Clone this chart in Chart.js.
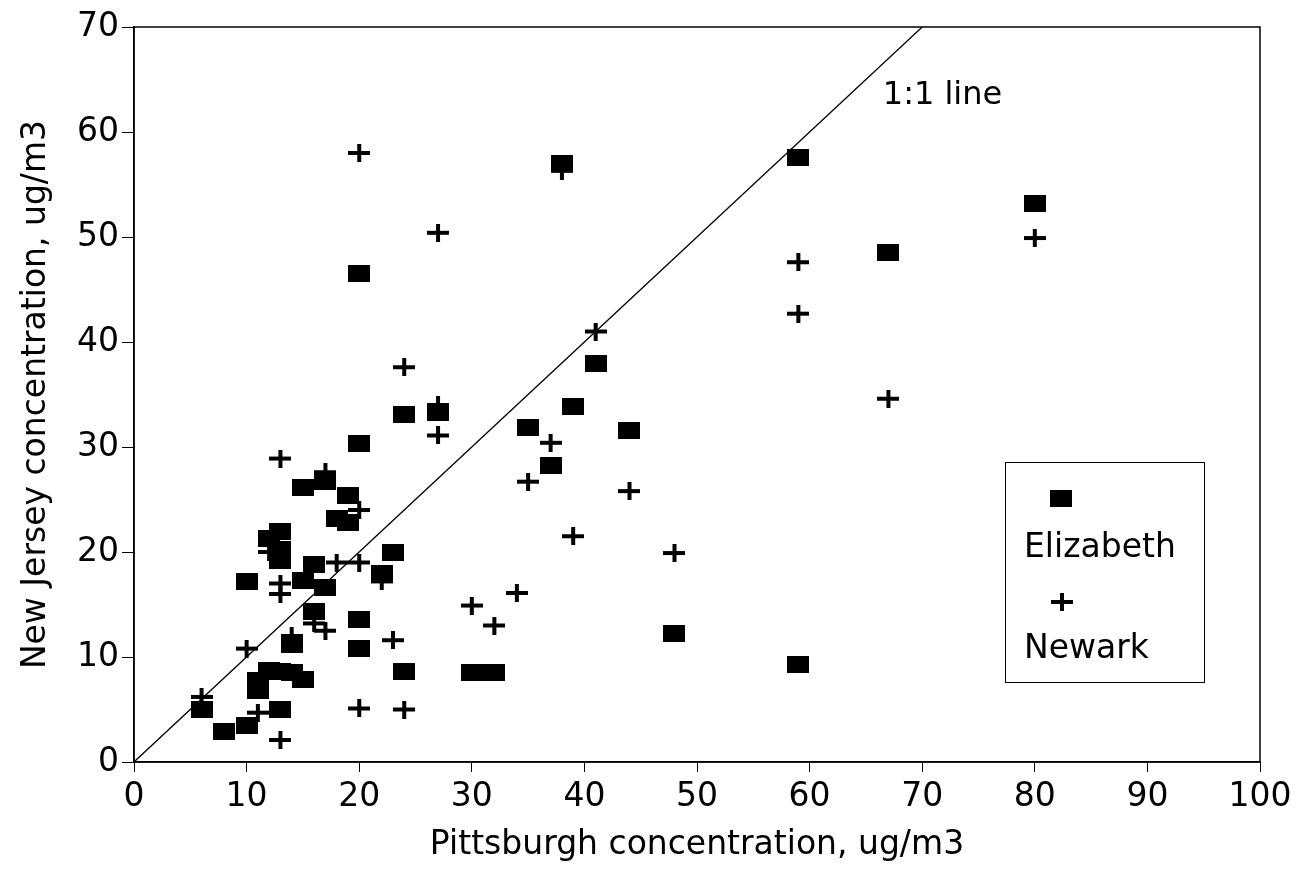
<!DOCTYPE html>
<html>
<head>
<meta charset="utf-8">
<script src="https://cdn.jsdelivr.net/npm/chart.js@4.4.1/dist/chart.umd.min.js"></script>
<style>
  html, body { margin: 0; background: #fff; }
  #wrap { width: 1306px; height: 869px; }
</style>
</head>
<body>
<div id="wrap"><canvas id="chart"></canvas></div>
<script>
// Pittsburgh (x) vs New Jersey (y) concentrations, ug/m3
const elizabeth = [
  [6, 5.0], [8, 2.9], [10, 3.5], [10, 17.2], [11, 7.8], [11, 6.8], [12, 8.7], [13, 8.6],
  [14, 8.5], [15, 7.9], [13, 5.0], [14, 11.2], [12, 21.3], [13, 22.0], [13, 20.2], [13, 19.2],
  [15, 17.3], [15, 26.1], [16, 18.8], [16, 14.3], [17, 16.6], [17, 26.7], [18, 23.2], [19, 25.4],
  [19, 22.8], [20, 30.3], [20, 46.5], [20, 13.6], [20, 10.8], [22, 18.0], [23, 20.0], [24, 33.1],
  [24, 8.6], [27, 33.3], [30, 8.5], [32, 8.5], [35, 31.9], [37, 28.2], [38, 57.0], [39, 33.9],
  [41, 38.0], [44, 31.6], [48, 12.2], [59, 57.6], [59, 9.3], [67, 48.5], [80, 53.2]
];
const newark = [
  [6, 6.2], [10, 10.8], [11, 4.7], [12, 20.0], [13, 28.9], [13, 17.0], [13, 16.0], [13, 2.1],
  [14, 12.0], [16, 13.2], [17, 12.5], [17, 27.6], [18, 19.0], [20, 19.0], [20, 24.0], [20, 5.1],
  [20, 58.0], [22, 17.2], [23, 11.6], [24, 37.6], [24, 5.0], [27, 50.4], [27, 34.0], [27, 31.1],
  [30, 14.9], [32, 13.0], [34, 16.1], [35, 26.7], [37, 30.4], [38, 56.3], [39, 21.5], [41, 41.0],
  [44, 25.8], [48, 19.9], [59, 47.6], [59, 42.7], [67, 34.6], [80, 49.9]
];
const oneToOne = [[0, 0], [70, 70]];
const xRange = [0, 100];
const yRange = [0, 70];
const seriesNames = ['Elizabeth', 'Newark'];

const FONT = 'DejaVu Sans';
const INK = '#000';

function toPoints(arr) {
  return arr.map(p => ({ x: p[0], y: p[1] }));
}

function squareMark(w, h) {
  const c = document.createElement('canvas');
  c.width = w; c.height = h;
  const g = c.getContext('2d');
  g.fillStyle = INK;
  g.fillRect(0, 0, w, h);
  return c;
}

function plusMark(w, h, lw) {
  const c = document.createElement('canvas');
  c.width = w; c.height = h;
  const g = c.getContext('2d');
  g.fillStyle = INK;
  g.fillRect(0, (h - lw) / 2, w, lw);
  g.fillRect((w - lw) / 2, 0, lw, h);
  return c;
}

const squareImg = squareMark(22, 17);
const plusImg = plusMark(22, 18, 4);

// box round the plot, the "1:1 line" note and the boxed legend
const decorations = {
  id: 'decorations',
  afterDraw(chart) {
    const { ctx, chartArea: a, scales: { x, y } } = chart;
    ctx.save();
    ctx.strokeStyle = INK;
    ctx.lineWidth = 1.5;
    ctx.strokeRect(a.left, a.top, a.right - a.left, a.bottom - a.top);

    ctx.fillStyle = INK;
    ctx.font = '32px "' + FONT + '"';
    ctx.textBaseline = 'alphabetic';
    ctx.textAlign = 'left';
    ctx.fillText('1:1 line', x.getPixelForValue(66.5), y.getPixelForValue(62.7));

    // legend box
    const bx = a.right - 255, by = a.bottom - 300, bw = 199, bh = 220;
    ctx.lineWidth = 1;
    ctx.fillStyle = '#fff';
    ctx.fillRect(bx, by, bw, bh);
    ctx.strokeRect(bx + 0.5, by + 0.5, bw, bh);
    ctx.drawImage(squareImg, bx + 56 - 11, by + 36 - 8);
    ctx.drawImage(plusImg, bx + 57 - 11, by + 140 - 9);
    ctx.fillStyle = INK;
    ctx.font = '33px "' + FONT + '"';
    ctx.fillText(seriesNames[0], bx + 19, by + 95);
    ctx.fillText(seriesNames[1], bx + 19, by + 196);
    ctx.restore();
  }
};

const ctx = document.getElementById('chart').getContext('2d');
new Chart(ctx, {
  type: 'scatter',
  data: {
    datasets: [
      {
        label: seriesNames[0],
        data: toPoints(elizabeth),
        pointStyle: squareImg,
        order: 1
      },
      {
        label: seriesNames[1],
        data: toPoints(newark),
        pointStyle: plusImg,
        order: 2
      },
      {
        type: 'line',
        label: '1:1 line',
        data: toPoints(oneToOne),
        borderColor: INK,
        borderWidth: 1.3,
        pointRadius: 0,
        fill: false,
        order: 3
      }
    ]
  },
  options: {
    responsive: true,
    maintainAspectRatio: false,
    animation: false,
    events: [],
    layout: { padding: { left: 0, top: 27, right: 46, bottom: 0 } },
    plugins: {
      legend: { display: false },
      tooltip: { enabled: false }
    },
    scales: {
      x: {
        type: 'linear',
        min: xRange[0], max: xRange[1],
        afterFit: s => { s.height = 107; },
        ticks: { stepSize: 10, color: INK, padding: 6, font: { family: FONT, size: 33 } },
        grid: { drawOnChartArea: false, tickLength: 10, color: INK, lineWidth: 1 },
        border: { color: INK, width: 1.5 },
        title: {
          display: true,
          text: 'Pittsburgh concentration, ug/m3',
          color: INK,
          font: { family: FONT, size: 33 },
          padding: { top: 0, bottom: 4 }
        }
      },
      y: {
        type: 'linear',
        min: yRange[0], max: yRange[1],
        afterFit: s => { s.width = 134; },
        ticks: { stepSize: 10, color: INK, padding: 3, font: { family: FONT, size: 33 } },
        grid: { drawOnChartArea: false, tickLength: 12, color: INK, lineWidth: 1 },
        border: { color: INK, width: 1.5 },
        title: {
          display: true,
          text: 'New Jersey concentration, ug/m3',
          color: INK,
          font: { family: FONT, size: 33 },
          padding: { top: 17, bottom: 0 }
        }
      }
    }
  },
  plugins: [decorations]
});
</script>
</body>
</html>
